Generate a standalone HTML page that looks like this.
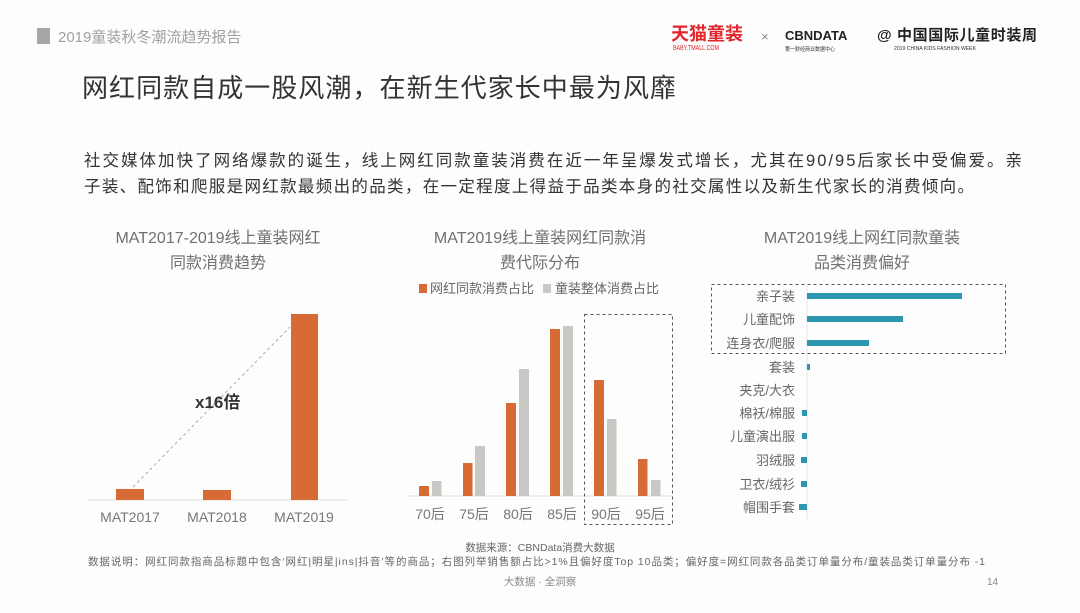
<!DOCTYPE html>
<html><head><meta charset="utf-8"><style>
body{margin:0;width:1080px;height:608px;background:#fdfdfd;overflow:hidden;font-family:"Liberation Sans","Noto Sans CJK SC",sans-serif;}
svg text{font-family:"Liberation Sans","Noto Sans CJK SC",sans-serif;}
</style></head><body>
<svg width="1080" height="608" viewBox="0 0 1080 608" xmlns="http://www.w3.org/2000/svg">
<rect width="1080" height="608" fill="#fdfdfd"/>
<rect x="37" y="28" width="13" height="16" fill="#a6a6a6"/>
<text x="58" y="42" font-size="15" fill="#a0a0a0">2019童装秋冬潮流趋势报告</text>
<text x="671" y="40" font-size="18" font-weight="bold" fill="#e0262b">天猫童装</text>
<text x="673" y="50" font-size="7" fill="#e0262b" textLength="46" lengthAdjust="spacingAndGlyphs">BABY.TMALL.COM</text>
<text x="761" y="41" font-size="13" fill="#888">×</text>
<text x="785" y="40" font-size="13" font-weight="bold" fill="#222">CBNDATA</text>
<text x="785" y="51" font-size="5.5" fill="#333" textLength="50" lengthAdjust="spacingAndGlyphs">第一财经商业数据中心</text>
<text x="877" y="40" font-size="15" font-weight="bold" fill="#222" textLength="160">@ 中国国际儿童时装周</text>
<text x="894" y="50" font-size="5" fill="#333" textLength="82" lengthAdjust="spacingAndGlyphs">2019 CHINA KIDS FASHION WEEK</text>
<text x="82" y="97" font-size="26" fill="#333" textLength="594">网红同款自成一股风潮，在新生代家长中最为风靡</text>
<text x="84" y="166" font-size="16.5" fill="#333" textLength="938">社交媒体加快了网络爆款的诞生，线上网红同款童装消费在近一年呈爆发式增长，尤其在90/95后家长中受偏爱。亲</text>
<text x="84" y="192" font-size="16.5" fill="#333" textLength="890">子装、配饰和爬服是网红款最频出的品类，在一定程度上得益于品类本身的社交属性以及新生代家长的消费倾向。</text>
<g font-size="16" fill="#707070" text-anchor="middle">
<text x="218" y="243">MAT2017-2019线上童装网红</text>
<text x="218" y="268">同款消费趋势</text>
<text x="540" y="243">MAT2019线上童装网红同款消</text>
<text x="540" y="268">费代际分布</text>
<text x="862" y="243">MAT2019线上网红同款童装</text>
<text x="862" y="268">品类消费偏好</text>
</g>
<line x1="88" y1="500" x2="348" y2="500" stroke="#ddd" stroke-width="1"/>
<line x1="133" y1="487" x2="290" y2="327" stroke="#aaa" stroke-width="1" stroke-dasharray="3,3"/>
<rect x="116" y="489" width="28" height="11" fill="#d86b35"/>
<rect x="203" y="490" width="28" height="10" fill="#d86b35"/>
<rect x="291" y="314" width="27" height="186" fill="#d86b35"/>
<text x="195" y="408" font-size="17" font-weight="bold" fill="#333">x16倍</text>
<g font-size="14" fill="#777" text-anchor="middle">
<text x="130" y="522">MAT2017</text><text x="217" y="522">MAT2018</text><text x="304" y="522">MAT2019</text>
</g>
<rect x="419" y="284" width="8" height="9" fill="#d86b35"/>
<text x="430" y="293" font-size="13" fill="#666">网红同款消费占比</text>
<rect x="543" y="284" width="8" height="9" fill="#c8c8c4"/>
<text x="555" y="293" font-size="13" fill="#666">童装整体消费占比</text>
<line x1="408" y1="496" x2="672" y2="496" stroke="#ddd"/>
<g fill="#d86b35">
<rect x="419" y="486" width="10" height="10"/><rect x="463" y="463" width="9.5" height="33"/>
<rect x="506" y="403" width="10" height="93"/><rect x="550" y="329" width="10" height="167"/>
<rect x="594" y="380" width="10" height="116"/><rect x="638" y="459" width="9.5" height="37"/>
</g>
<g fill="#c8c8c4">
<rect x="432" y="481" width="9.5" height="15"/><rect x="475" y="446" width="10" height="50"/>
<rect x="519" y="369" width="10" height="127"/><rect x="563" y="326" width="10" height="170"/>
<rect x="607" y="419" width="9.5" height="77"/><rect x="651" y="480" width="9.5" height="16"/>
</g>
<rect x="584.5" y="314.5" width="88" height="210" fill="none" stroke="#555" stroke-dasharray="3,3"/>
<g font-size="14" fill="#777" text-anchor="middle">
<text x="430" y="519">70后</text><text x="474" y="519">75后</text><text x="518" y="519">80后</text>
<text x="562" y="519">85后</text><text x="606" y="519">90后</text><text x="650" y="519">95后</text>
</g>
<rect x="711.5" y="284.5" width="294" height="69" fill="none" stroke="#555" stroke-dasharray="3,3"/>
<line x1="807" y1="285" x2="807" y2="520" stroke="#e6e6e6"/>
<g fill="#2b98b0">
<rect x="807" y="293" width="155" height="6"/>
<rect x="807" y="316" width="96" height="6"/>
<rect x="807" y="340" width="62" height="6"/>
<rect x="807" y="364" width="3" height="6"/>
<rect x="802" y="410" width="5" height="6"/>
<rect x="802" y="433" width="5" height="6"/>
<rect x="801" y="457" width="6" height="6"/>
<rect x="801" y="481" width="6" height="6"/>
<rect x="799" y="504" width="8" height="6"/>
</g>
<g font-size="13" fill="#666" text-anchor="end">
<text x="795" y="301">亲子装</text><text x="795" y="324">儿童配饰</text><text x="795" y="348">连身衣/爬服</text>
<text x="795" y="372">套装</text><text x="795" y="395">夹克/大衣</text><text x="795" y="418">棉袄/棉服</text>
<text x="795" y="441">儿童演出服</text><text x="795" y="465">羽绒服</text><text x="795" y="489">卫衣/绒衫</text>
<text x="795" y="512">帽围手套</text>
</g>
<text x="540" y="551" font-size="10.5" fill="#666" text-anchor="middle">数据来源：CBNData消费大数据</text>
<text x="88" y="565" font-size="10.5" fill="#666" textLength="897">数据说明：网红同款指商品标题中包含‘网红|明星|ins|抖音’等的商品；右图列举销售额占比&gt;1%且偏好度Top  10品类；偏好度=网红同款各品类订单量分布/童装品类订单量分布  -1</text>
<text x="540" y="585" font-size="10.5" fill="#888" text-anchor="middle">大数据 · 全洞察</text>
<text x="987" y="585" font-size="10" fill="#888">14</text>
</svg>
</body></html>
